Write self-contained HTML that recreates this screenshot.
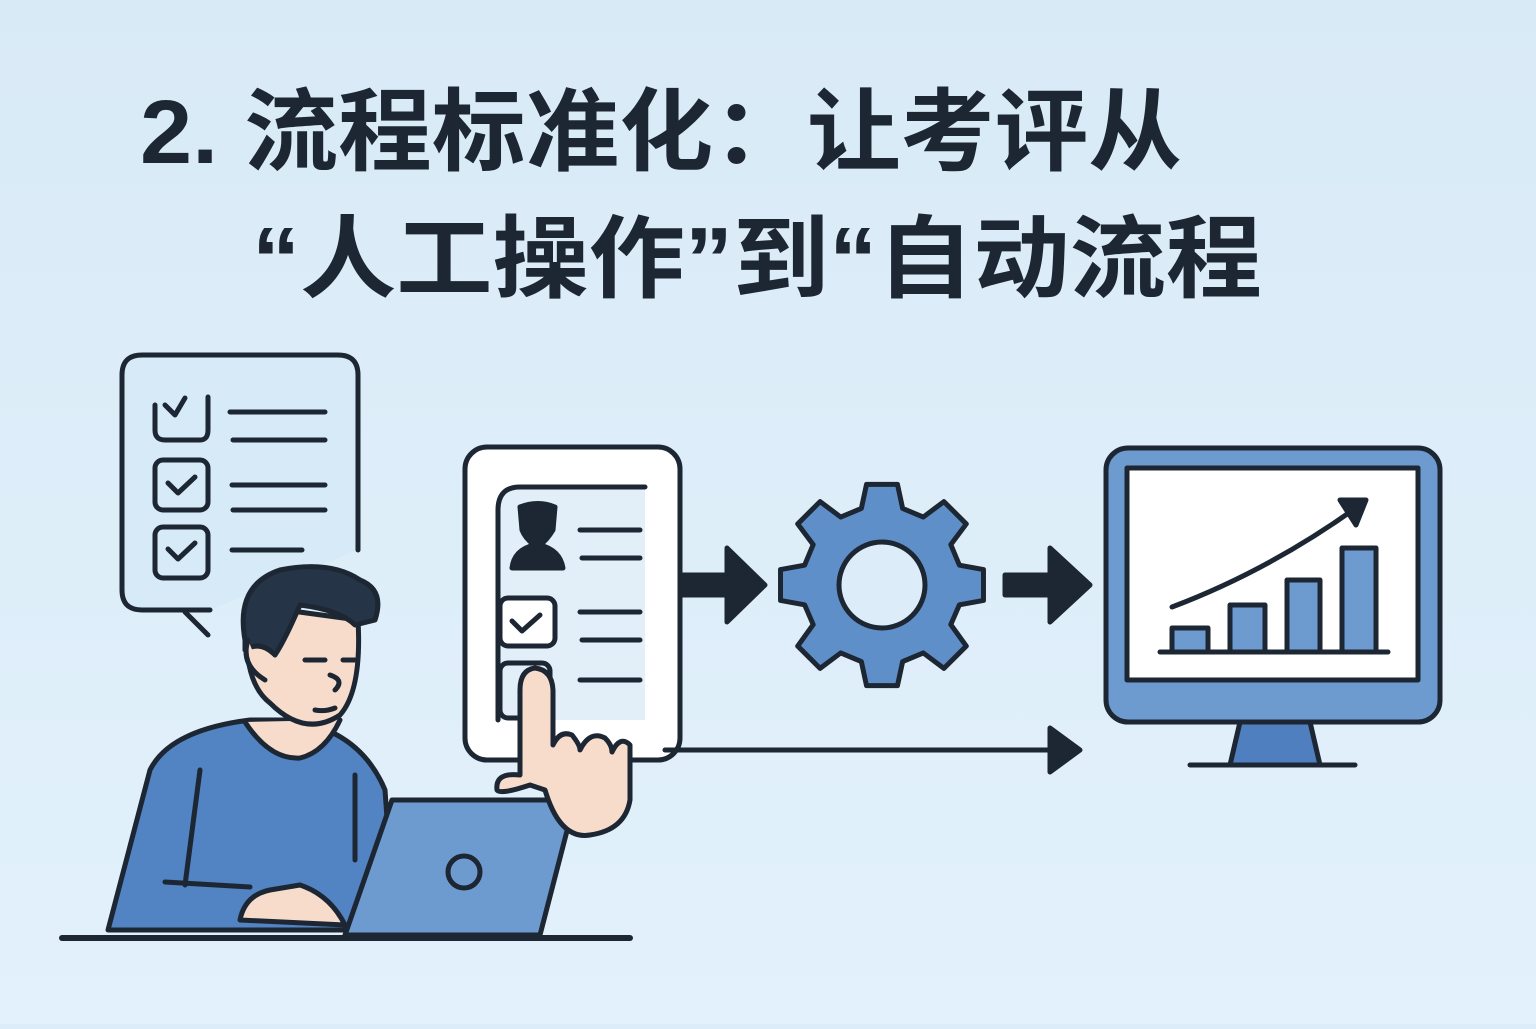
<!DOCTYPE html>
<html><head><meta charset="utf-8"><style>
html,body{margin:0;padding:0;}
body{width:1536px;height:1024px;overflow:hidden;background:linear-gradient(180deg,#dcecf8,#e0f0fa);}
</style></head><body>
<svg width="1536" height="1024" viewBox="0 0 1536 1024" xmlns="http://www.w3.org/2000/svg">
<defs><linearGradient id="bg" x1="0" y1="0" x2="0" y2="1"><stop offset="0" stop-color="#d9eaf7"/><stop offset="1" stop-color="#e2f1fb"/></linearGradient></defs>
<rect width="1536" height="1024" fill="url(#bg)"/>
<g font-family="'Liberation Sans','Noto Sans CJK SC',sans-serif" font-weight="bold" fill="#1d2633">
<text x="140" y="163" font-size="90" textLength="1042" lengthAdjust="spacingAndGlyphs">2. 流程标准化：让考评从</text>
<text x="252" y="290" font-size="90" textLength="1010" lengthAdjust="spacingAndGlyphs">“人工操作”到“自动流程</text>
</g>
<g stroke="#1d2633" stroke-width="5" stroke-linecap="round" stroke-linejoin="round" fill="none">
<path d="M358 550 V375 Q358 355 338 355 H142 Q122 355 122 375 V590 Q122 610 142 610 H210" fill="#d6eaf8"/>
<path d="M185 612 L208 635"/>
<path d="M155 405 V430 Q155 440 165 440 H200 Q208 440 208 430 V397"/>
<path d="M165 405 L175 415 L185 398"/>
<rect x="155" y="460" width="53" height="50" rx="8"/><path d="M168 483 L178 493 L195 477"/>
<rect x="155" y="527" width="53" height="51" rx="8"/><path d="M168 549 L178 559 L195 543"/>
<path d="M230 412 H325 M233 440 H325 M232 485 H325 M233 510 H325 M232 550 H302"/>
<path d="M108 930 L150 770 Q170 730 250 720 L290 720 Q360 730 385 790 L395 930 Z" fill="#5283c2"/>
<path d="M245 722 Q270 760 300 758 Q325 752 340 720" fill="#f7dccc"/>
<path d="M200 770 L185 885 M355 775 L355 860 M165 882 L250 887"/>
<path d="M248 605 Q240 680 270 703 Q305 738 340 715 Q362 690 358 620 Z" fill="#f7dccc"/>
<path d="M245 640 Q235 585 280 570 Q330 560 360 580 Q385 590 375 620 L355 625 Q340 610 300 605 Q285 640 275 655 Q260 640 245 650 Z" fill="#253447"/>
<path d="M248 640 Q240 665 265 680" fill="#f7dccc"/>
<path d="M305 660 H325 M343 660 H355 M330 675 Q345 680 335 690 M315 710 Q325 712 335 708"/>
<path d="M240 920 Q245 895 270 890 L300 885 Q330 895 345 925 Z" fill="#f7dccc"/>
<path d="M392 800 H575 L540 935 H345 Z" fill="#6d9bd0"/>
<circle cx="464" cy="872" r="16"/>
<path d="M62 938 H630" stroke-width="6"/>
<rect x="465" y="447" width="215" height="313" rx="22" fill="#ffffff"/>
<path d="M645 487 H520 Q498 487 498 510 V720 H645 Z" fill="#e2eff9" stroke="none"/>
<path d="M645 487 H520 Q498 487 498 510 V720"/>
<path d="M520 507 Q538 500 555 507 L553 530 Q547 540 540 545 Q560 550 563 568 H512 Q514 550 534 545 Q525 538 522 530 Z" fill="#1d2633"/>
<path d="M580 530 H640 M582 558 H640 M580 612 H640 M582 640 H640 M580 680 H640"/>
<rect x="500" y="598" width="55" height="48" rx="8" fill="#fff"/><path d="M512 621 L522 631 L540 615"/>
<rect x="500" y="663" width="50" height="55" rx="8"/>
<path d="M520 775 V690 Q520 670 535 668 Q552 670 553 690 V745 Q560 730 572 735 Q580 745 580 750 Q590 730 605 738 Q612 745 612 752 Q620 735 630 745 V800 Q625 830 590 835 Q560 840 545 790 L530 785 Q500 795 497 790 Q495 772 520 775 Z" fill="#f7dccc"/>
<path d="M680 575 H727 V548 L765 585 L727 622 V595 H680 Z" fill="#1d2633"/>
<path d="M1005 575 H1050 V548 L1090 585 L1050 622 V595 H1005 Z" fill="#1d2633"/>
<path d="M665 750 H1060"/>
<path d="M1050 728 L1080 750 L1050 772 Z" fill="#1d2633"/>
<g transform="translate(882,585) scale(0.86)" fill="#5f8fc8">
<path d="M-18 -108 H18 L24 -80 L48 -70 L72 -88 L98 -62 L80 -38 L90 -14 L118 -9 V27 L90 32 L80 55 L98 80 L72 106 L48 88 L24 98 L18 126 H-18 L-24 98 L-48 88 L-72 106 L-98 80 L-80 55 L-90 32 L-118 27 V-9 L-90 -14 L-80 -38 L-98 -62 L-72 -88 L-48 -70 L-24 -80 Z" transform="translate(0,-9)" stroke-width="5.8"/>
<circle cx="0" cy="0" r="50" fill="#dcecf8" stroke-width="5.8"/>
</g>
<rect x="1106" y="448" width="334" height="274" rx="22" fill="#6d9bd0"/>
<rect x="1127" y="468" width="291" height="212" fill="#ffffff"/>
<path d="M1240 722 H1310 L1320 765 H1230 Z" fill="#4f7fbf"/>
<path d="M1190 765 H1355"/>
<rect x="1172" y="628" width="36" height="24" fill="#6d9bd0"/>
<rect x="1230" y="605" width="35" height="47" fill="#6d9bd0"/>
<rect x="1287" y="580" width="33" height="72" fill="#6d9bd0"/>
<rect x="1342" y="548" width="34" height="104" fill="#6d9bd0"/>
<path d="M1160 652 H1388"/>
<path d="M1172 607 Q1270 570 1360 505"/>
<path d="M1340 500 L1366 500 L1356 525 Z" fill="#1d2633"/>
</g>
</svg>
</body></html>
